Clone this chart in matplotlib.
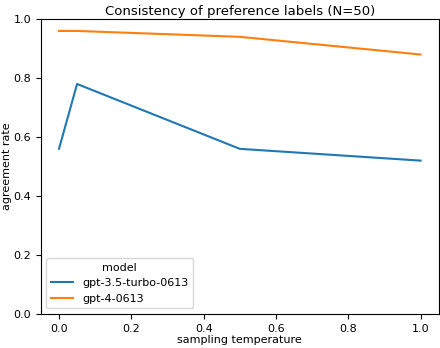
import matplotlib
matplotlib.use("Agg")
import matplotlib.pyplot as plt

temperature = [0.0, 0.05, 0.5, 1.0]
gpt35 = [0.56, 0.78, 0.56, 0.52]
gpt4 = [0.96, 0.96, 0.94, 0.88]
models = ["gpt-3.5-turbo-0613", "gpt-4-0613"]

plt.rcParams["font.size"] = 8

fig = plt.figure(figsize=(4.4, 3.48), dpi=100)
ax = fig.add_axes([0.093, 0.098, 0.904, 0.847])

ax.plot(temperature, gpt35, color="#1f77b4", linewidth=1.5, label=models[0])
ax.plot(temperature, gpt4, color="#ff7f0e", linewidth=1.5, label=models[1])

ax.set_ylim(0, 1.0)
ax.set_xlim(-0.05, 1.05)
ax.set_title("Consistency of preference labels (N=50)", fontsize=9.5, pad=3)
ax.set_xlabel("sampling temperature", labelpad=1)
ax.set_ylabel("agreement rate", labelpad=1)
ax.legend(title="model", loc="lower left")

fig.savefig("out.png", dpi=100)
